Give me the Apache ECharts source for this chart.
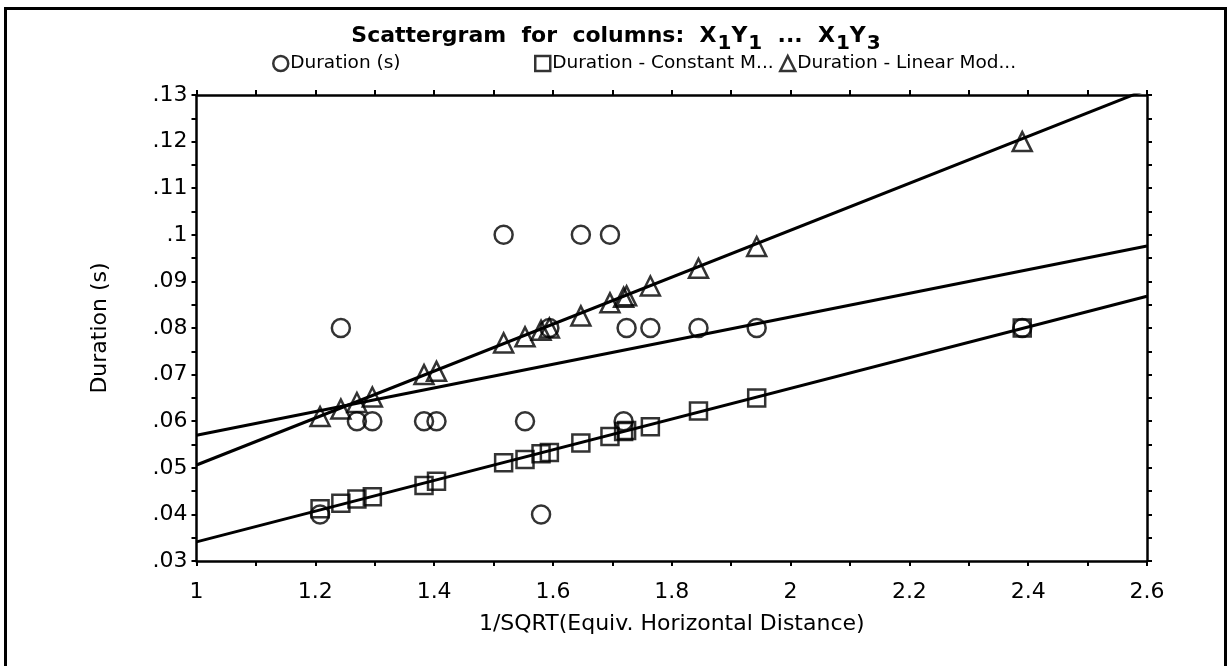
<!DOCTYPE html>
<html>
<head>
<meta charset="utf-8">
<script src="https://cdn.jsdelivr.net/npm/echarts@6/dist/echarts.min.js"></script>
<style>
  html, body { margin: 0; padding: 0; background: #fff; }
  #chart { width: 1232px; height: 666px; }
</style>
</head>
<body>
<div id="chart"></div>
<script>
// Horizontal variable: 1/SQRT(Equiv. Horizontal Distance)
const xValues = [1.208, 1.243, 1.270, 1.296, 1.383, 1.404, 1.517, 1.553, 1.580,
                 1.594, 1.647, 1.696, 1.719, 1.724, 1.764, 1.845, 1.943, 2.390];
// Measured durations (s)
const durationObserved = [0.040, 0.080, 0.060, 0.060, 0.060, 0.060, 0.100, 0.060, 0.040,
                          0.080, 0.100, 0.100, 0.060, 0.080, 0.080, 0.080, 0.080, 0.080];
// Constant-model predictions
const durationConstant = [0.0412, 0.0424, 0.0433, 0.0438, 0.0462, 0.0471, 0.0511, 0.0518, 0.0530,
                          0.0533, 0.0553, 0.0567, 0.0578, 0.0580, 0.0588, 0.0622, 0.0650, 0.0800];
// Linear-model predictions
const durationLinear = [0.0610, 0.0626, 0.0640, 0.0652, 0.0700, 0.0707, 0.0768, 0.0781, 0.0795,
                        0.0800, 0.0826, 0.0854, 0.0866, 0.0869, 0.0890, 0.0928, 0.0975, 0.1200];
// Fitted straight lines, as [x, y] end points across the axis range
const fitObserved = [[1, 0.0570], [2.6, 0.0976]];
const fitConstant = [[1, 0.0341], [2.6, 0.0868]];
const fitLinear = [[1, 0.0506], [2.6, 0.1312]];

const seriesNames = ['Duration (s)', 'Duration - Constant Model', 'Duration - Linear Model'];
const legendLabels = ['Duration (s)', 'Duration - Constant M...', 'Duration - Linear Mod...'];
const legendIcons = ['circle', 'rect', 'triangle'];

const FONT = 'DejaVu Sans';
const FS = 22;
const pair = (ys) => xValues.map((x, i) => [x, ys[i]]);
const yFmt = (v) => (+v.toFixed(2)).toString().replace(/^0/, '');

const axisCommon = {
  type: 'value',
  axisLine: { show: true, lineStyle: { color: '#000', width: 2.5 } },
  axisTick: { show: true, inside: false, length: 5, lineStyle: { color: '#000', width: 2 } },
  minorTick: { show: true, splitNumber: 2, length: 5, lineStyle: { color: '#000', width: 2 } },
  splitLine: { show: false },
  minorSplitLine: { show: false }
};

const xBase = Object.assign({}, axisCommon, { min: 1, max: 2.6, interval: 0.2 });
const yBase = Object.assign({}, axisCommon, { min: 0.03, max: 0.13, interval: 0.01 });

const markerStyle = {
  color: 'rgba(255,255,255,0)',
  borderColor: '#000',
  borderWidth: 2.5
};

const lineSeries = (data) => ({
  type: 'line',
  data: data,
  showSymbol: false,
  symbol: 'none',
  clip: true,
  silent: true,
  lineStyle: { color: '#000', width: 3 },
  z: 2
});

const scatterSeries = (name, symbol, ys, size) => ({
  name: name,
  type: 'scatter',
  symbol: symbol,
  symbolSize: size,
  data: pair(ys),
  itemStyle: markerStyle,
  z: 3
});

const legendAt = (i, left) => ({
  data: [{ name: seriesNames[i], icon: legendIcons[i] }],
  left: left,
  top: 54,
  padding: 0,
  itemWidth: 15,
  itemHeight: 15,
  itemGap: 0,
  selectedMode: false,
  formatter: () => legendLabels[i],
  itemStyle: { color: 'rgba(255,255,255,0)', borderColor: '#000', borderWidth: 2.5 },
  textStyle: { fontFamily: FONT, fontSize: 18.5, color: '#000', padding: [0, 0, 0, -3] }
});

const chart = echarts.init(document.getElementById('chart'), null, { renderer: 'canvas' });
chart.setOption({
  animation: false,
  backgroundColor: '#fff',
  title: {
    text: '{t|Scattergram  for  columns:  X}{s|1}{t|Y}{s|1}{t|  ...  X}{s|1}{t|Y}{s|3}',
    left: 'center',
    top: 20,
    textStyle: {
      rich: {
        t: { fontFamily: FONT, fontWeight: 'bold', fontSize: 22, color: '#000', lineHeight: 30, verticalAlign: 'top' },
        s: { fontFamily: FONT, fontWeight: 'bold', fontSize: 20, color: '#000', lineHeight: 30, padding: [9, 0, 0, 1], verticalAlign: 'top' }
      }
    }
  },
  legend: [legendAt(0, 272), legendAt(1, 534), legendAt(2, 779)],
  grid: { left: 196.5, right: 85, top: 95, bottom: 105, containLabel: false },
  xAxis: [
    Object.assign({}, xBase, {
      position: 'bottom',
      name: '1/SQRT(Equiv. Horizontal Distance)',
      nameLocation: 'middle',
      nameGap: 52,
      nameTextStyle: { fontFamily: FONT, fontSize: FS, color: '#000' },
      axisLabel: { fontFamily: FONT, fontSize: FS, color: '#000', margin: 20, formatter: (v) => (+v.toFixed(1)).toString() }
    }),
    Object.assign({}, xBase, { position: 'top', axisLabel: { show: false } })
  ],
  yAxis: [
    Object.assign({}, yBase, {
      position: 'left',
      name: 'Duration (s)',
      nameLocation: 'middle',
      nameGap: 85,
      nameRotate: 90,
      nameTextStyle: { fontFamily: FONT, fontSize: FS, color: '#000' },
      axisLabel: { fontFamily: FONT, fontSize: FS, color: '#000', margin: 9, formatter: yFmt }
    }),
    Object.assign({}, yBase, { position: 'right', axisLabel: { show: false } })
  ],
  graphic: [{
    type: 'rect',
    shape: { x: 5.5, y: 8.5, width: 1220, height: 670 },
    style: { fill: 'none', stroke: '#000', lineWidth: 3 },
    silent: true,
    z: 10
  }],
  series: [
    lineSeries(fitObserved),
    lineSeries(fitConstant),
    lineSeries(fitLinear),
    scatterSeries(seriesNames[0], 'circle', durationObserved, 18),
    scatterSeries(seriesNames[1], 'rect', durationConstant, 17),
    scatterSeries(seriesNames[2], 'triangle', durationLinear, 19)
  ]
});
</script>
</body>
</html>
